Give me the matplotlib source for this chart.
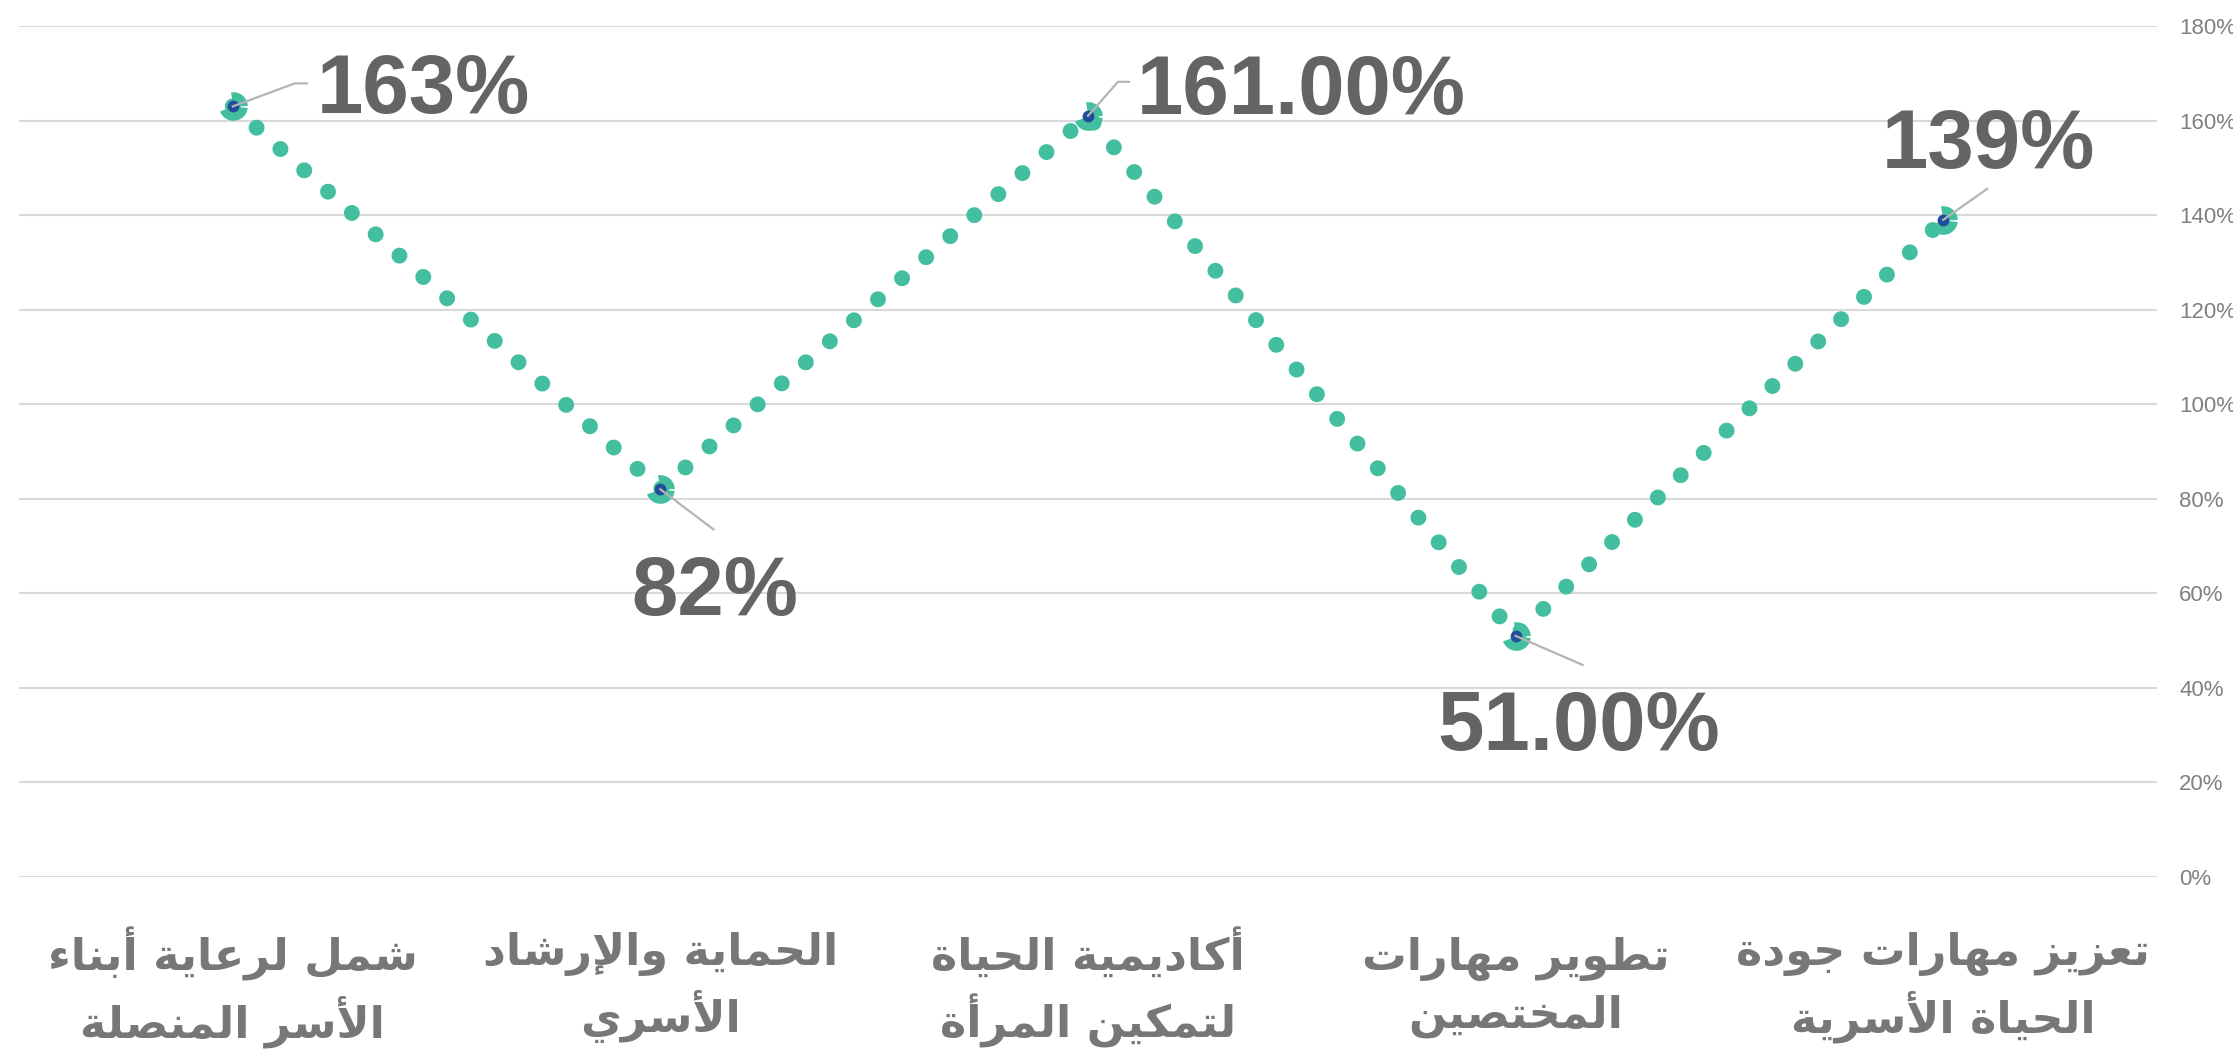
import matplotlib
matplotlib.use('Agg')
import matplotlib.pyplot as plt
from matplotlib.lines import Line2D
from matplotlib.path import Path
from matplotlib.ticker import FuncFormatter, MultipleLocator


# Chart data
categories = [
    'شمل لرعاية أبناء\nالأسر المنصلة',
    'الحماية والإرشاد\nالأسري',
    'أكاديمية الحياة\nلتمكين المرأة',
    'تطوير مهارات\nالمختصين',
    'تعزيز مهارات جودة\nالحياة الأسرية',
]
values = [1.63, 0.82, 1.61, 0.51, 1.39]
value_labels = ['163%', '82%', '161.00%', '51.00%', '139%']

# label offsets from the point, in pixels (left edge / baseline of the text)
label_offsets = [(84, -7), (-29, -126), (49, 2), (-78, -114), (-61, 52)]
# leader line corners, in pixels from the point
leader_paths = [
    [(0, 0), (62, 23), (74, 23)],
    [(0, 0), (53, -40)],
    [(0, 0), (30, 34), (41, 34)],
    [(0, 0), (67, -29)],
    [(0, 0), (44, 31)],
]

TEAL = '#43BE9F'
NAVY = '#1F4E9A'

# matplotlib does no Arabic shaping, so pick presentation forms by hand
# letter -> (isolated form, 2 = joins only to the right, 4 = joins both sides)
FORMS = {
    'ء': (0xFE80, 0), 'آ': (0xFE81, 2), 'أ': (0xFE83, 2), 'ؤ': (0xFE85, 2),
    'إ': (0xFE87, 2), 'ئ': (0xFE89, 4), 'ا': (0xFE8D, 2), 'ب': (0xFE8F, 4),
    'ة': (0xFE93, 2), 'ت': (0xFE95, 4), 'ث': (0xFE99, 4), 'ج': (0xFE9D, 4),
    'ح': (0xFEA1, 4), 'خ': (0xFEA5, 4), 'د': (0xFEA9, 2), 'ذ': (0xFEAB, 2),
    'ر': (0xFEAD, 2), 'ز': (0xFEAF, 2), 'س': (0xFEB1, 4), 'ش': (0xFEB5, 4),
    'ص': (0xFEB9, 4), 'ض': (0xFEBD, 4), 'ط': (0xFEC1, 4), 'ظ': (0xFEC5, 4),
    'ع': (0xFEC9, 4), 'غ': (0xFECD, 4), 'ف': (0xFED1, 4), 'ق': (0xFED5, 4),
    'ك': (0xFED9, 4), 'ل': (0xFEDD, 4), 'م': (0xFEE1, 4), 'ن': (0xFEE5, 4),
    'ه': (0xFEE9, 4), 'و': (0xFEED, 2), 'ى': (0xFEEF, 2), 'ي': (0xFEF1, 4),
}
LAM_ALEF = {'آ': 0xFEF5, 'أ': 0xFEF7, 'إ': 0xFEF9, 'ا': 0xFEFB}


def shape_line(s):
    out = []
    prev_joins = False
    i = 0
    while i < len(s):
        c = s[i]
        nxt = s[i + 1] if i + 1 < len(s) else ''
        if c not in FORMS:
            out.append(c)
            prev_joins = False
            i += 1
            continue
        base, kind = FORMS[c]
        if c == 'ل' and nxt in LAM_ALEF:
            out.append(chr(LAM_ALEF[nxt] + (1 if prev_joins else 0)))
            prev_joins = False
            i += 2
            continue
        join_prev = prev_joins and kind > 0
        join_next = kind == 4 and nxt in FORMS and FORMS[nxt][1] > 0
        if join_prev and join_next:
            code = base + 3
        elif join_prev:
            code = base + 1
        elif join_next:
            code = base + 2
        else:
            code = base
        out.append(chr(code))
        prev_joins = kind == 4
        i += 1
    return ''.join(reversed(out))


def shape(text):
    return '\n'.join(shape_line(line) for line in text.split('\n'))


def main():
    fig = plt.figure(figsize=(22.33, 10.59), dpi=100)
    ax = fig.add_axes([19 / 2233, 1 - 877 / 1059, 2138 / 2233, 851 / 1059])

    ax.set_xlim(-0.5, 4.5)
    ax.set_ylim(0, 1.8)

    x = list(range(len(values)))

    # dotted line made of round dots
    line, = ax.plot(x, values, color=TEAL, linewidth=11.5, zorder=3)
    line.set_dashes([0.001, 2.0])
    line.set_dash_capstyle('round')

    # pie-like marker with a small navy dot
    pie = Path.make_compound_path(Path.wedge(-160, -6), Path.wedge(2, 100))
    ax.plot(x, values, linestyle='none', marker=pie, markersize=21,
            color=TEAL, markeredgewidth=0, zorder=4)
    ax.plot(x, values, linestyle='none', marker='o', markersize=8.5,
            color=NAVY, markeredgewidth=0, zorder=5)

    # leader lines, drawn in pixels from each point
    for xi, v, pts in zip(x, values, leader_paths):
        px, py = ax.transData.transform((xi, v))
        fig.add_artist(Line2D([px + dx for dx, dy in pts], [py + dy for dx, dy in pts],
                              transform=None, color='#B4B4B4', linewidth=1.6,
                              zorder=6))

    for xi, v, lab, off in zip(x, values, value_labels, label_offsets):
        ax.annotate(lab, xy=(xi, v), xytext=off, textcoords='offset pixels',
                    ha='left', va='baseline', fontsize=60, fontweight='bold',
                    color='#646464', family=['Liberation Sans', 'DejaVu Sans'],
                    zorder=7)

    for xi, cat in zip(x, categories):
        ax.text(xi, -0.13, shape(cat), transform=ax.get_xaxis_transform(),
                ha='center', va='center', fontsize=32, fontweight='bold',
                color='#777777', family=['DejaVu Sans'], linespacing=1.35)

    ax.yaxis.set_major_locator(MultipleLocator(0.2))
    ax.yaxis.set_major_formatter(FuncFormatter(lambda v, p: f'{v * 100:.0f}%'))
    ax.yaxis.tick_right()
    ax.set_xticks([])
    ax.tick_params(axis='y', length=0, pad=16, labelsize=16, labelcolor='#808080')
    for lab in ax.get_yticklabels():
        lab.set_family(['Liberation Sans', 'DejaVu Sans'])
    ax.grid(axis='y', color='#D9D9D9', linewidth=1.5)
    ax.set_axisbelow(True)
    for s in ax.spines.values():
        s.set_visible(False)

    fig.savefig('out.png', dpi=100)


if __name__ == "__main__":
    main()
